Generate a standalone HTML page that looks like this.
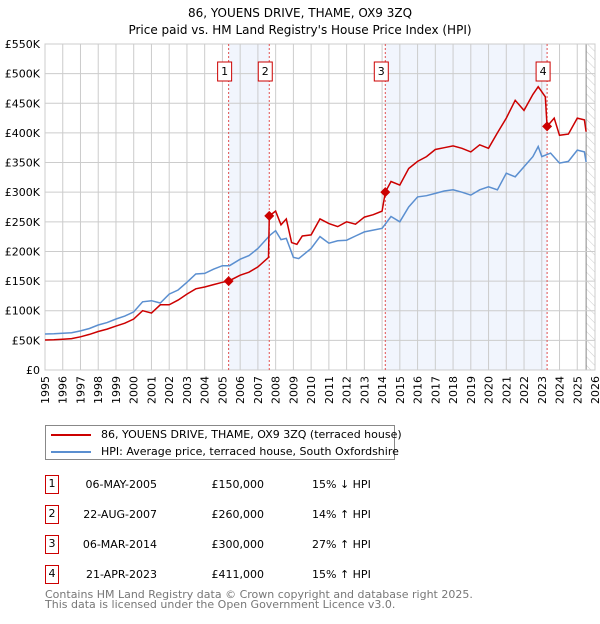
<!DOCTYPE html>
<html><head><meta charset="utf-8"><style>
body{margin:0;background:#fff;width:600px;height:620px;overflow:hidden;font-family:"DejaVu Sans","Liberation Sans",sans-serif}
svg text{font-family:"DejaVu Sans","Liberation Sans",sans-serif}
</style></head><body>
<svg id="c" width="600" height="620" xmlns="http://www.w3.org/2000/svg"></svg>
<script>
const hpiYears=[1995,1995.5,1996,1996.5,1997,1997.5,1998,1998.5,1999,1999.5,2000,2000.5,2001,2001.5,2002,2002.5,2003,2003.5,2004,2004.5,2005,2005.4,2006,2006.5,2007,2007.7,2008,2008.3,2008.6,2009,2009.3,2010,2010.5,2011,2011.5,2012,2012.5,2013,2013.5,2014,2014.5,2015,2015.5,2016,2016.5,2017,2017.5,2018,2018.5,2019,2019.5,2020,2020.5,2021,2021.5,2022,2022.5,2022.8,2023,2023.5,2024,2024.5,2025,2025.4,2025.5];
const hpiValues=[60.7,61,62,63,66,70,76,80,86,91,98,115,117,113,128,135,148,162,163,170,176,176,187,193,205,228,235,220,222,190,188,205,225,214,218,219,226,233,236,239,259,250,275,292,294,298,302,304,300,295,304,309,304,332,326,343,360,377,360,366,349,352,371,368,351];
const redYears=[1995,1995.5,1996,1996.5,1997,1997.5,1998,1998.5,1999,1999.5,2000,2000.5,2001,2001.5,2002,2002.5,2003,2003.5,2004,2004.5,2005,2005.35,2006,2006.5,2007,2007.6,2007.64,2008,2008.3,2008.6,2008.9,2009.2,2009.5,2010,2010.5,2011,2011.5,2012,2012.5,2013,2013.5,2014,2014.18,2014.5,2015,2015.5,2016,2016.5,2017,2017.5,2018,2018.5,2019,2019.5,2020,2020.5,2021,2021.5,2022,2022.5,2022.8,2023.2,2023.3,2023.7,2024,2024.5,2025,2025.4,2025.5];
const redValues=[50.6,51,52,53,56,60,65,69,74,79,86,100,96,110,110,118,128,137,140,144,148,150,160,165,174,190,260,268,245,255,215,212,226,228,255,247,242,250,246,258,262,268,300,318,312,340,352,360,372,375,378,374,368,380,374,400,425,455,438,465,478,461,411,425,396,398,425,422,402];
const sales=[[2005.35,150,"1"],[2007.64,260,"2"],[2014.18,300,"3"],[2023.3,411,"4"]];
const yTicks=[0,50,100,150,200,250,300,350,400,450,500,550];
const xYears=[1995,1996,1997,1998,1999,2000,2001,2002,2003,2004,2005,2006,2007,2008,2009,2010,2011,2012,2013,2014,2015,2016,2017,2018,2019,2020,2021,2022,2023,2024,2025,2026];
const NS="http://www.w3.org/2000/svg",svg=document.getElementById('c');
const X0=45,X1=595,Y0=370,Y1=44;
const xs=y=>X0+(y-1995)/31*(X1-X0), ys=v=>Y0-v/550*(Y0-Y1);
function mk(t,a,p){const e=document.createElementNS(NS,t);for(const k in a)e.setAttribute(k,a[k]);(p||svg).appendChild(e);return e;}
function tx(s,a){const e=mk('text',a);e.textContent=s;return e;}
let t=tx('86, YOUENS DRIVE, THAME, OX9 3ZQ',{x:300,y:17,'text-anchor':'middle','font-size':12});

t=tx("Price paid vs. HM Land Registry's House Price Index (HPI)",{x:300,y:34,'text-anchor':'middle','font-size':12});

[[0,1],[2,3]].forEach(p=>{const r=mk('rect',{x:xs(sales[p[0]][0]),y:Y1,width:xs(sales[p[1]][0])-xs(sales[p[0]][0]),height:Y0-Y1,fill:'#eef3fc',opacity:0.8});
});
const defs=mk('defs',{});const pat=mk('pattern',{id:'h',width:6,height:6,patternUnits:'userSpaceOnUse',patternTransform:'rotate(-45)'},defs);
mk('line',{x1:0,y1:0,x2:0,y2:6,stroke:'#ccc','stroke-width':1},pat);
const hr=mk('rect',{x:xs(2025.5),y:Y1,width:X1-xs(2025.5),height:Y0-Y1,fill:'url(#h)'});

mk('line',{x1:xs(2025.5),y1:Y1,x2:xs(2025.5),y2:Y0,stroke:'#888','stroke-width':1});
xYears.forEach(y=>{mk('line',{x1:xs(y),y1:Y1,x2:xs(y),y2:Y0,stroke:'#ccc','stroke-width':1});
const l=tx(String(y),{x:0,y:0,'font-size':11,'text-anchor':'end',transform:`translate(${xs(y)+4},${Y0+6}) rotate(-90)`});
});
yTicks.forEach(v=>{mk('line',{x1:X0,y1:ys(v),x2:X1,y2:ys(v),stroke:'#ccc','stroke-width':1});
const l=tx(v==0?'£0':'£'+v+'K',{x:X0-5,y:ys(v)+4,'font-size':11,'text-anchor':'end'});
});
mk('rect',{x:X0,y:Y1,width:X1-X0,height:Y0-Y1,fill:'none',stroke:'#ccc'});
sales.forEach(s=>{mk('line',{x1:xs(s[0]),y1:Y1,x2:xs(s[0]),y2:Y0,stroke:'#e05050','stroke-width':1,'stroke-dasharray':'2,2'});});
const pts=(a,b)=>a.map((y,i)=>xs(y).toFixed(1)+','+ys(b[i]).toFixed(1)).join(' ');
let l=mk('polyline',{points:pts(hpiYears,hpiValues),fill:'none',stroke:'#5b8fd0','stroke-width':1.5});

l=mk('polyline',{points:pts(redYears,redValues),fill:'none',stroke:'#cc0000','stroke-width':1.5});

sales.forEach(s=>{const x=xs(s[0]),y=ys(s[1]);
const d=mk('polygon',{points:`${x},${y-5} ${x+5},${y} ${x},${y+5} ${x-5},${y}`,fill:'#cc0000'});

const b=mk('rect',{x:x-11,y:62,width:14,height:19,fill:'#fff',stroke:'#cc0000'});

tx(s[2],{x:x-4,y:75,'font-size':11,'text-anchor':'middle'});});
</script>
<div style="position:absolute;left:45px;top:425px;width:350px;height:35px;border:1px solid #888;box-sizing:border-box;font-size:11px;color:#000">
<div style="position:absolute;left:5px;top:2px;white-space:nowrap"><span style="display:inline-block;width:40px;height:2px;background:#cc0000;vertical-align:middle;margin-right:10px"></span>86, YOUENS DRIVE, THAME, OX9 3ZQ (terraced house)</div>
<div style="position:absolute;left:5px;top:19px;white-space:nowrap"><span style="display:inline-block;width:40px;height:2px;background:#5b8fd0;vertical-align:middle;margin-right:10px"></span>HPI: Average price, terraced house, South Oxfordshire</div>
</div>
<div style="position:absolute;left:0;top:0;width:600px;height:620px;font-size:11px">
<div style="position:absolute;left:45px;top:475px;width:14px;height:19px;border:1px solid #cc0000;box-sizing:border-box;text-align:center;line-height:16px">1</div>
<div style="position:absolute;left:45px;top:505px;width:14px;height:19px;border:1px solid #cc0000;box-sizing:border-box;text-align:center;line-height:16px">2</div>
<div style="position:absolute;left:45px;top:535px;width:14px;height:19px;border:1px solid #cc0000;box-sizing:border-box;text-align:center;line-height:16px">3</div>
<div style="position:absolute;left:45px;top:565px;width:14px;height:19px;border:1px solid #cc0000;box-sizing:border-box;text-align:center;line-height:16px">4</div>
<div style="position:absolute;left:57px;width:100px;top:477px;text-align:right;white-space:nowrap;line-height:15px">06-MAY-2005<br><br>22-AUG-2007<br><br>06-MAR-2014<br><br>21-APR-2023</div>
<div style="position:absolute;left:164px;width:100px;top:477px;text-align:right;white-space:nowrap;line-height:15px">£150,000<br><br>£260,000<br><br>£300,000<br><br>£411,000</div>
<div style="position:absolute;left:312px;top:477px;white-space:nowrap;line-height:15px">15% ↓ HPI<br><br>14% ↑ HPI<br><br>27% ↑ HPI<br><br>15% ↑ HPI</div>
</div>
<div style="position:absolute;left:45px;top:590px;font-size:11px;color:#777;line-height:10px;white-space:nowrap">Contains HM Land Registry data © Crown copyright and database right 2025.<br>This data is licensed under the Open Government Licence v3.0.</div>
</body></html>
